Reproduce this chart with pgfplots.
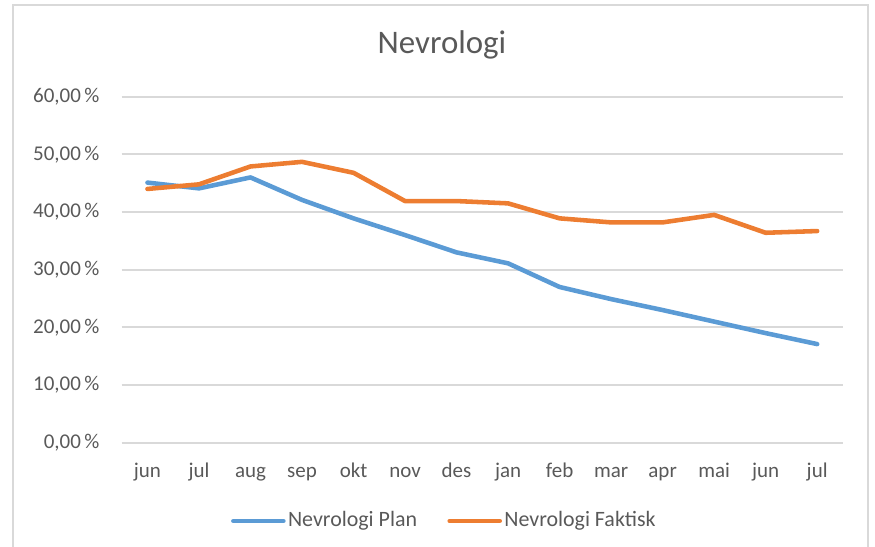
\documentclass[border=0pt]{standalone}
\usepackage{fontspec}
\setmainfont{Carlito}
\usepackage{pgfplots}
\pgfplotsset{compat=1.18}

\definecolor{txtgray}{HTML}{595959}
\definecolor{gridgray}{HTML}{D9D9D9}
\definecolor{planblue}{HTML}{5B9BD5}
\definecolor{faktorange}{HTML}{ED7D31}

\begin{document}
\begin{tikzpicture}
\useasboundingbox (0,0) rectangle (375pt,234.43pt);
% chart frame (left, top, right)
\draw[gridgray, line width=0.9pt] (5.6pt,0) -- (5.6pt,232.3pt) -- (372pt,232.3pt) -- (372pt,0);

\begin{axis}[
    at={(52.16pt,44.70pt)}, anchor=south west,
    scale only axis,
    width=309.1pt, height=148.29pt,
    xmin=-0.5, xmax=13.5,
    ymin=0, ymax=60,
    xtick={0,...,13},
    xticklabels={jun,jul,aug,sep,okt,nov,des,jan,feb,mar,apr,mai,jun,jul},
    ytick={0,10,...,60},
    yticklabel={\pgfmathprintnumber[fixed,fixed zerofill,precision=2,use comma]{\tick}\,\%},
    /pgf/number format/assume math mode=true,
    axis line style={draw=none},
    tick style={draw=none},
    ymajorgrids=true,
    grid style={gridgray, line width=0.8pt},
    ticklabel style={font=\fontsize{9}{11}\selectfont, text=txtgray},
    xticklabel style={yshift=-3.6pt, text height=1.6ex, text depth=0.45ex},
    yticklabel style={xshift=-6pt},
    clip=false,
    legend style={at={(0.4476,-0.2263)}, anchor=center, draw=none, fill=none,
        legend columns=2, font=\fontsize{9.4}{11}\selectfont, text=txtgray,
        /tikz/every even column/.append style={column sep=12pt},
        nodes={inner xsep=1pt}},
    legend image code/.code={\draw[#1, line width=1.9pt, line cap=round] (0pt,0pt) -- (21.5pt,0pt);},
]
\addplot[planblue, line width=1.95pt, line join=round, line cap=round] coordinates {
(0,45.1) (1,44.1) (2,46.0) (3,42.1) (4,38.9) (5,36.0) (6,33.0)
(7,31.1) (8,27.0) (9,24.9) (10,23.0) (11,21.0) (12,19.0) (13,17.1)
};
\addlegendentry{Nevrologi Plan}
\addplot[faktorange, line width=1.95pt, line join=round, line cap=round] coordinates {
(0,44.0) (1,44.8) (2,47.9) (3,48.7) (4,46.8) (5,41.9) (6,41.9)
(7,41.5) (8,38.9) (9,38.2) (10,38.2) (11,39.5) (12,36.4) (13,36.7)
};
\addlegendentry{Nevrologi Faktisk}
\end{axis}

\node[text=txtgray, font=\fontsize{14.1}{17}\selectfont] at (189.4pt,215.1pt) {Nevrologi};
\end{tikzpicture}
\end{document}
